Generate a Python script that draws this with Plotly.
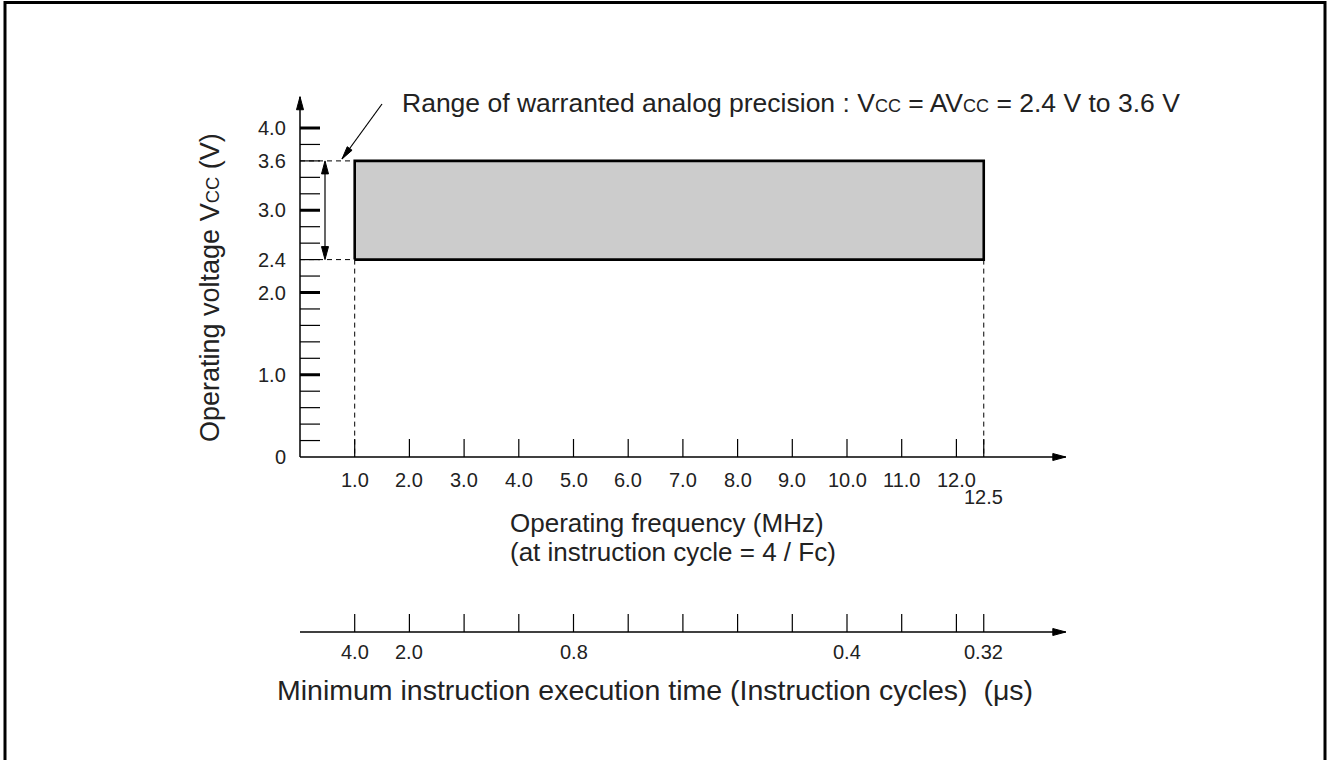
import math
import plotly.graph_objects as go

# ---------------- data ----------------
FREQ_TICKS = [1.0, 2.0, 3.0, 4.0, 5.0, 6.0, 7.0, 8.0, 9.0, 10.0, 11.0, 12.0]
FREQ_LABELS = ["1.0", "2.0", "3.0", "4.0", "5.0", "6.0", "7.0", "8.0", "9.0", "10.0", "11.0", "12.0"]
FREQ_MAX = 12.5
FREQ_MAX_LABEL = "12.5"
FREQ_AXIS_END = 14.0

VOLT_AXIS_END = 4.38
VOLT_MAJOR = [1.0, 2.0, 3.0, 4.0]
VOLT_MINOR = [0.2, 0.4, 0.6, 0.8, 1.2, 1.4, 1.6, 1.8, 2.2, 2.4, 2.6, 2.8, 3.2, 3.4, 3.6, 3.8]
VOLT_LABEL_VALS = [0.0, 1.0, 2.0, 2.4, 3.0, 3.6, 4.0]
VOLT_LABELS = ["0", "1.0", "2.0", "2.4", "3.0", "3.6", "4.0"]

VCC_MIN, VCC_MAX = 2.4, 3.6
F_MIN, F_MAX = 1.0, 12.5

TIME_TICK_FREQS = [1.0, 2.0, 3.0, 4.0, 5.0, 6.0, 7.0, 8.0, 9.0, 10.0, 11.0, 12.0, 12.5]
TIME_LABEL_FREQS = [1.0, 2.0, 5.0, 10.0, 12.5]
TIME_LABELS = ["4.0", "2.0", "0.8", "0.4", "0.32"]

# ---------------- scale (px per unit) ----------------
W, H = 1334, 760
SX = 54.7      # px per MHz
SY = 82.25     # px per V
OX, OY = 300, 457  # pixel position of origin


def dx(px):
    return px / SX


def dy(px):
    return px / SY


TIME_AXIS_Y = -dy(175)

FONT = "Liberation Sans, Arial, Helvetica, sans-serif"
TXT = "#222222"
TICK_FS = 20
TITLE_FS = 26

fig = go.Figure()


def seg_trace(xs, ys, width=1.2, dash=None, color="black"):
    fig.add_trace(go.Scatter(x=xs, y=ys, mode="lines", hoverinfo="skip",
                             line=dict(color=color, width=width, dash=dash)))


def segments(pairs):
    xs, ys = [], []
    for (x0, y0), (x1, y1) in pairs:
        xs += [x0, x1, None]
        ys += [y0, y1, None]
    return xs, ys


def arrowhead(tx, ty, ux, uy, L=13, Wd=7):
    n = math.hypot(ux, uy)
    ux, uy = ux / n, uy / n
    px, py = -uy, ux
    bx, by = -ux * L, -uy * L
    pts = [(0, 0), (bx + px * Wd / 2, by + py * Wd / 2), (bx - px * Wd / 2, by - py * Wd / 2), (0, 0)]
    fig.add_trace(go.Scatter(x=[tx + dx(p[0]) for p in pts], y=[ty + dy(p[1]) for p in pts],
                             mode="lines", fill="toself", fillcolor="black",
                             line=dict(color="black", width=1), hoverinfo="skip"))


# operating region rectangle
fig.add_trace(go.Scatter(x=[F_MIN, F_MAX, F_MAX, F_MIN, F_MIN],
                         y=[VCC_MIN, VCC_MIN, VCC_MAX, VCC_MAX, VCC_MIN],
                         mode="lines", fill="toself", fillcolor="#cccccc",
                         line=dict(color="black", width=2.6), hoverinfo="skip"))

# dashed guide lines
xs, ys = segments([((0, VCC_MAX), (F_MIN, VCC_MAX)), ((0, VCC_MIN), (F_MIN, VCC_MIN)),
                   ((F_MIN, VCC_MIN), (F_MIN, 0)), ((F_MAX, VCC_MIN), (F_MAX, 0))])
seg_trace(xs, ys, width=1, dash="5px,4px")

# axes lines
xs, ys = segments([((0, 0), (0, VOLT_AXIS_END)), ((0, 0), (FREQ_AXIS_END, 0)),
                   ((0, TIME_AXIS_Y), (FREQ_AXIS_END, TIME_AXIS_Y))])
seg_trace(xs, ys, width=1.5)
arrowhead(0, VOLT_AXIS_END, 0, 1)
arrowhead(FREQ_AXIS_END, 0, 1, 0)
arrowhead(FREQ_AXIS_END, TIME_AXIS_Y, 1, 0)

# y ticks
TL = dx(20)
xs, ys = segments([((0, v), (TL, v)) for v in VOLT_MINOR])
seg_trace(xs, ys, width=1.2)
xs, ys = segments([((0, v), (TL, v)) for v in VOLT_MAJOR])
seg_trace(xs, ys, width=3)

# x ticks (frequency)
XT = dy(18)
xs, ys = segments([((f, 0), (f, XT)) for f in FREQ_TICKS + [FREQ_MAX]])
seg_trace(xs, ys, width=1.2)
# time axis ticks
xs, ys = segments([((f, TIME_AXIS_Y), (f, TIME_AXIS_Y + XT)) for f in TIME_TICK_FREQS])
seg_trace(xs, ys, width=1.2)

# double arrow showing the warranted range
DX_ARROW = dx(25)
seg_trace([DX_ARROW, DX_ARROW], [VCC_MIN + dy(6), VCC_MAX - dy(6)], width=1.2)
arrowhead(DX_ARROW, VCC_MAX, 0, 1)
arrowhead(DX_ARROW, VCC_MIN, 0, -1)

# pointer line to the range
P_START = (dx(82), dy(353))
P_TIP = (dx(42), dy(298))
seg_trace([P_START[0], P_TIP[0]], [P_START[1], P_TIP[1]], width=1.2)
arrowhead(P_TIP[0], P_TIP[1], (P_TIP[0] - P_START[0]) * SX, (P_TIP[1] - P_START[1]) * SY, L=13, Wd=6)

ann = []


def text(x, y, s, size, xanchor="center", yanchor="middle", angle=0):
    ann.append(dict(x=x, y=y, xref="x", yref="y", text=s, showarrow=False,
                    xanchor=xanchor, yanchor=yanchor, textangle=angle,
                    font=dict(family=FONT, size=size, color=TXT)))


for v, lab in zip(VOLT_LABEL_VALS, VOLT_LABELS):
    text(-dx(12), v, lab, TICK_FS, xanchor="right")
for f, lab in zip(FREQ_TICKS, FREQ_LABELS):
    text(f, -dy(23), lab, TICK_FS)
text(FREQ_MAX, -dy(40), FREQ_MAX_LABEL, TICK_FS)
for f, lab in zip(TIME_LABEL_FREQS, TIME_LABELS):
    text(f, TIME_AXIS_Y - dy(20), lab, TICK_FS)

CC = '<span style="font-size:68%">CC</span>'
text(dx(208), -dy(66), "Operating frequency (MHz)", TITLE_FS, xanchor="left")
text(dx(208), -dy(95), "(at instruction cycle = 4 / Fc)", TITLE_FS, xanchor="left")
text(dx(355), TIME_AXIS_Y - dy(58), "Minimum instruction execution time (Instruction cycles)  (\u03bcs)", 28.5)
text(-dx(90), dy(169), "Operating voltage V" + CC + " (V)", 27, angle=-90)
text(dx(100), dy(354), "Range of warranted analog precision : V" + CC + " = AV" + CC + " = 2.4 V to 3.6 V",
     26.5, xanchor="left")

fig.update_layout(
    width=W, height=H,
    margin=dict(l=0, r=0, t=0, b=0),
    paper_bgcolor="white", plot_bgcolor="white",
    showlegend=False,
    annotations=ann,
    xaxis=dict(range=[-OX / SX, (W - OX) / SX], visible=False, fixedrange=True),
    yaxis=dict(range=[-(H - OY) / SY, OY / SY], visible=False, fixedrange=True),
    shapes=[dict(type="rect", xref="paper", yref="paper", x0=5 / W, x1=1325 / W, y0=-0.05, y1=1 - 2.5 / H,
                 line=dict(color="black", width=3), fillcolor="rgba(0,0,0,0)", layer="above")],
)

fig.write_html("out.html", config={"displayModeBar": False},
               post_script="document.body.style.margin='0';")
